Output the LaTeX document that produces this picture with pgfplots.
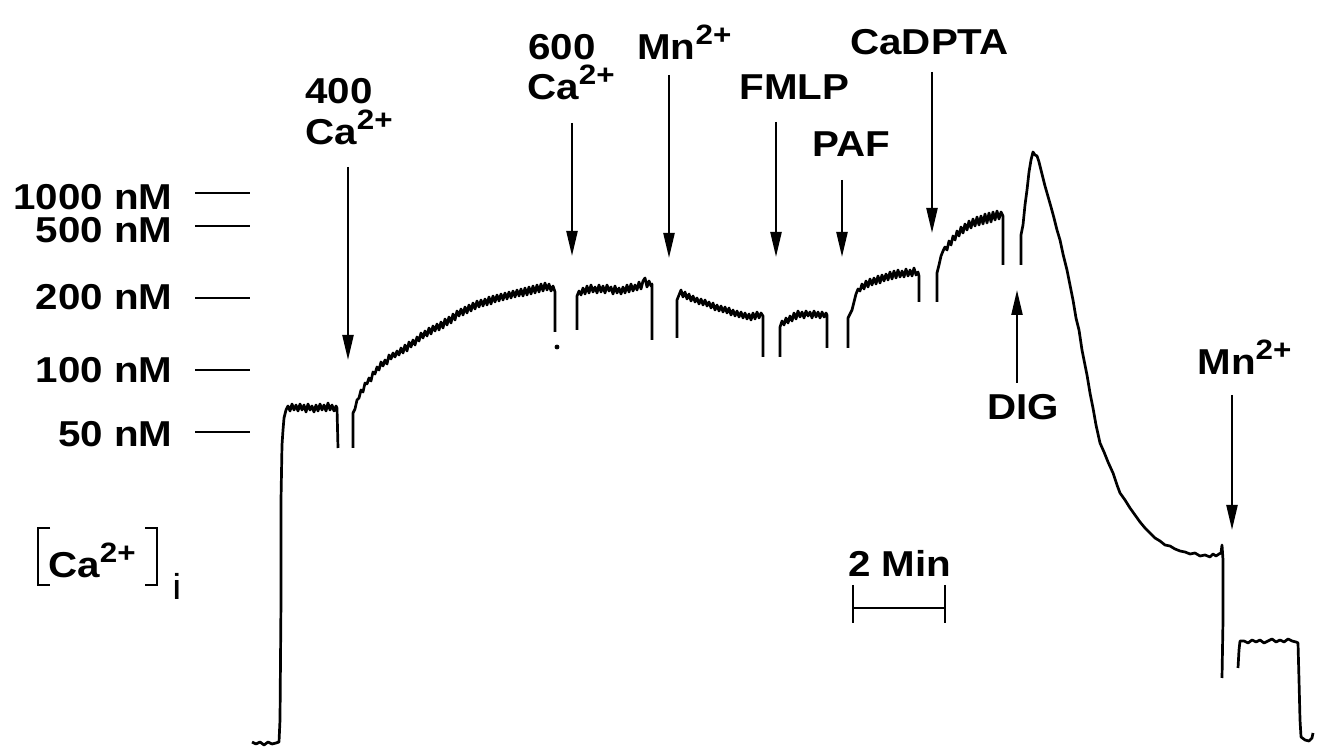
\documentclass[border=0pt]{standalone}
\usepackage{fontspec}
\setmainfont{Liberation Sans}[FakeStretch=1.12]
\usepackage{pgfplots}
\pgfplotsset{compat=1.18}
\usetikzlibrary{arrows.meta}
\newcommand{\sps}[1]{\raisebox{7.5pt}{\fontsize{14}{14}\selectfont\bfseries #1}}
\begin{document}
\begin{tikzpicture}[every node/.style={font=\fontsize{18}{21}\selectfont\bfseries, inner sep=0pt},
  arr/.style={line width=1.15pt, -{Triangle[length=12.5pt,width=5.5pt]}},
  trace/.style={black, line width=1.35pt, line join=round}]
\begin{axis}[width=664pt, height=373.5pt, scale only axis,
  xmin=0, xmax=1328, ymin=0, ymax=747, y dir=reverse,
  axis lines=none, clip=false]
\path (rel axis cs:0,0) rectangle (rel axis cs:1,1);
% segment 1: baseline, rise, resting plateau
\addplot[trace] coordinates {(252,742)(256,744)(260,742)(264,745)(268,742)(272,744)(276,743)(279,742)(280,720)(281,600)(281,500)(282,445)(283,430)(284,418)(286,410)(288,406)(290,411)(292,404)(294,410)(296,405)(298,411)(300,404)(302,410)(304,405)(306,412)(308,404)(310,410)(312,406)(314,412)(316,405)(318,411)(320,404)(322,410)(324,405)(326,411)(328,403)(330,410)(332,405)(334,411)(336,406)(337,408)(338,448)};
% segment 2: 400 Ca
\addplot[trace] coordinates {(353,448)(353,413)(355,409)(357,400)(359,398)(361,390)(363,392)(365,383)(367,384)(369,378)(371,381)(373,372)(375,374)(377,367)(379,370)(381,362)(383,366)(385,360)(387,364)(389,355)(391,359)(393,353)(395,357)(397,351)(399,355)(401,348)(403,353)(405,345)(407,351)(409,342)(411,347)(413,340)(415,345)(417,337)(419,341)(421,333)(423,338)(425,331)(427,336)(429,328)(431,334)(433,326)(435,331)(437,324)(439,330)(441,322)(443,328)(445,319)(447,325)(449,317)(451,323)(453,314)(455,320)(457,311)(459,316)(461,309)(463,315)(465,307)(467,313)(469,305)(471,311)(473,303)(475,309)(477,301)(479,307)(481,300)(483,306)(485,299)(487,305)(489,297)(491,304)(493,296)(495,302)(497,295)(499,301)(501,294)(503,300)(505,293)(507,299)(509,292)(511,298)(513,291)(515,297)(517,290)(519,296)(521,289)(523,296)(525,288)(527,295)(529,287)(531,294)(533,286)(535,293)(537,285)(539,292)(541,284)(543,291)(545,283)(547,290)(549,284)(551,291)(553,286)(555,292)(555,332)};
\addplot[only marks, mark=*, mark size=1pt] coordinates {(557,347)};
% segment 3: 600 Ca
\addplot[trace] coordinates {(577,330)(577,296)(579,291)(581,295)(583,288)(585,294)(587,286)(589,293)(591,285)(593,292)(595,287)(597,293)(599,285)(601,292)(603,286)(605,293)(607,285)(609,291)(611,287)(613,294)(615,286)(617,293)(619,288)(621,294)(623,287)(625,293)(627,285)(629,292)(631,284)(633,291)(635,285)(637,290)(639,282)(641,289)(643,281)(645,278)(647,287)(649,281)(651,286)(652,284)(652,340)};
% segment 4: Mn
\addplot[trace] coordinates {(677,338)(677,300)(679,295)(681,290)(683,297)(685,292)(687,299)(689,294)(691,301)(693,296)(695,302)(697,298)(699,304)(701,299)(703,305)(705,300)(707,306)(709,302)(711,308)(713,303)(715,310)(717,305)(719,311)(721,306)(723,312)(725,307)(727,313)(729,308)(731,315)(733,310)(735,316)(737,311)(739,317)(741,312)(743,318)(745,313)(747,319)(749,314)(751,320)(753,313)(755,319)(757,312)(759,318)(761,313)(763,316)(763,357)};
% segment 5: FMLP
\addplot[trace] coordinates {(780,357)(780,327)(782,321)(784,325)(786,318)(788,323)(790,316)(792,321)(794,313)(796,319)(798,311)(800,317)(802,312)(804,318)(806,311)(808,316)(810,312)(812,318)(814,311)(816,317)(818,312)(820,318)(822,312)(824,317)(826,313)(827,315)(827,348)};
% segment 6: PAF
\addplot[trace] coordinates {(848,348)(848,318)(850,314)(852,310)(854,302)(856,294)(858,289)(860,291)(862,284)(864,289)(866,281)(868,287)(870,279)(872,285)(874,278)(876,284)(878,276)(880,283)(882,275)(884,281)(886,274)(888,280)(890,272)(892,279)(894,271)(896,278)(898,270)(900,277)(902,271)(904,277)(906,269)(908,276)(910,270)(912,276)(914,268)(916,275)(918,272)(919,276)(919,302)};
% segment 7: CaDPTA
\addplot[trace] coordinates {(937,302)(937,273)(939,265)(941,256)(943,251)(945,247)(947,250)(949,241)(951,245)(953,236)(955,240)(957,231)(959,236)(961,227)(963,233)(965,224)(967,230)(969,221)(971,228)(973,219)(975,226)(977,217)(979,225)(981,216)(983,224)(985,214)(987,223)(989,213)(991,222)(993,212)(995,220)(997,211)(999,219)(1001,212)(1003,216)(1003,265)};
% segment 8: DIG peak and decay
\addplot[trace] coordinates {(1021,265)(1021,235)(1023,225)(1025,205)(1027,190)(1029,172)(1031,160)(1033,152)(1035,155)(1037,156)(1039,162)(1041,170)(1043,178)(1045,186)(1047,193)(1049,200)(1051,207)(1054,218)(1057,230)(1060,240)(1063,254)(1067,270)(1070,285)(1073,300)(1076,318)(1079,330)(1082,350)(1084,360)(1087,375)(1090,393)(1093,408)(1096,425)(1100,443)(1104,452)(1108,462)(1113,473)(1117,485)(1120,493)(1125,500)(1130,508)(1135,515)(1140,522)(1145,528)(1150,533)(1155,538)(1160,541)(1165,545)(1170,546)(1175,549)(1180,551)(1185,552)(1190,554)(1195,553)(1200,556)(1205,555)(1210,557)(1213,554)(1216,556)(1219,554)(1221,553)(1222,545)(1223,560)(1223,620)(1222,678)};
% segment 9: Mn quench
\addplot[trace] coordinates {(1238,668)(1239,650)(1240,641)(1244,641)(1248,643)(1252,640)(1256,642)(1260,640)(1264,643)(1268,641)(1272,639)(1276,642)(1280,640)(1284,642)(1288,639)(1292,641)(1296,642)(1298,643)(1299,680)(1300,720)(1301,737)(1305,740)(1309,741)(1312,738)(1313,733)};

% calibration marks
\draw[line width=0.9pt] (axis cs:195,193) -- (axis cs:250,193);
\draw[line width=0.9pt] (axis cs:195,226) -- (axis cs:250,226);
\draw[line width=0.9pt] (axis cs:195,298) -- (axis cs:250,298);
\draw[line width=0.9pt] (axis cs:195,370) -- (axis cs:250,370);
\draw[line width=0.9pt] (axis cs:195,432) -- (axis cs:250,432);
\node[anchor=base east] at (axis cs:173,210) {1000 nM};
\node[anchor=base east] at (axis cs:173,243) {500 nM};
\node[anchor=base east] at (axis cs:173,310) {200 nM};
\node[anchor=base east] at (axis cs:173,383) {100 nM};
\node[anchor=base east] at (axis cs:173,447) {50 nM};

% [Ca2+]i label
\draw[line width=0.9pt] (axis cs:50,528) -- (axis cs:38,528) -- (axis cs:38,585) -- (axis cs:50,585);
\draw[line width=0.9pt] (axis cs:145,528) -- (axis cs:157,528) -- (axis cs:157,585) -- (axis cs:145,585);
\node[anchor=base west] at (axis cs:48,578) {Ca\sps{2+}};
\node[anchor=base west] at (axis cs:172,600) {\mdseries i};

% annotations
\node[anchor=base west] at (axis cs:305,104) {400};
\node[anchor=base west] at (axis cs:305,145) {Ca\sps{2+}};
\draw[arr] (axis cs:348,167) -- (axis cs:348,360);

\node[anchor=base west] at (axis cs:528,60) {600};
\node[anchor=base west] at (axis cs:527,100) {Ca\sps{2+}};
\draw[arr] (axis cs:572,123) -- (axis cs:572,256);

\node[anchor=base west] at (axis cs:637,60) {Mn\sps{2+}};
\draw[arr] (axis cs:669,75) -- (axis cs:669,258);

\node[anchor=base west] at (axis cs:739,100) {FMLP};
\draw[arr] (axis cs:776,122) -- (axis cs:776,257);

\node[anchor=base west] at (axis cs:812,157) {PAF};
\draw[arr] (axis cs:842,180) -- (axis cs:842,257);

\node[anchor=base west] at (axis cs:850,55) {CaDPTA};
\draw[arr] (axis cs:932,72) -- (axis cs:932,233);

\draw[arr] (axis cs:1017,383) -- (axis cs:1017,290);
\node[anchor=base west] at (axis cs:987,420) {DIG};

\node[anchor=base west] at (axis cs:1197,375) {Mn\sps{2+}};
\draw[arr] (axis cs:1232,395) -- (axis cs:1232,530);

% time scale bar
\node[anchor=base west] at (axis cs:848,577) {2 Min};
\draw[line width=1pt] (axis cs:853,608) -- (axis cs:945,608);
\draw[line width=1pt] (axis cs:853,585) -- (axis cs:853,623);
\draw[line width=1pt] (axis cs:945,585) -- (axis cs:945,623);
\end{axis}
\end{tikzpicture}
\end{document}
